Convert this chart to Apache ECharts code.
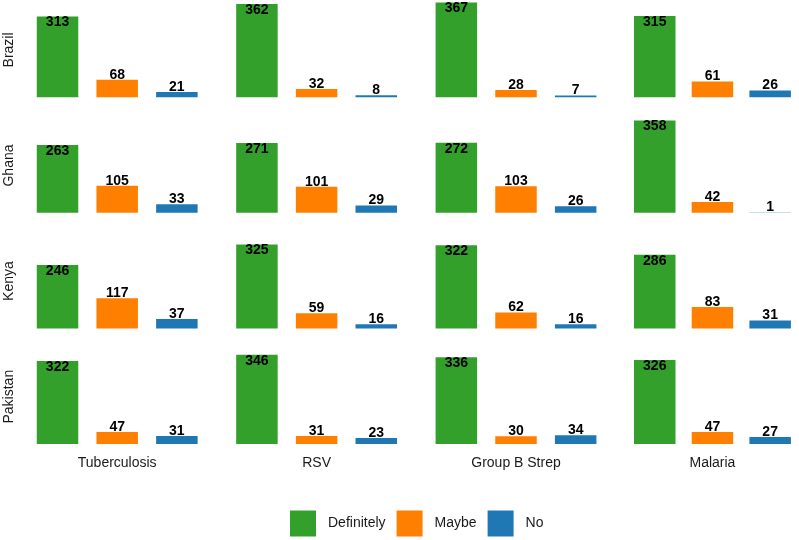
<!DOCTYPE html>
<html>
<head>
<meta charset="utf-8">
<script src="https://cdn.jsdelivr.net/npm/echarts@6/dist/echarts.min.js"></script>
<style>
  html, body { margin: 0; padding: 0; background: #fff; }
  #chart { width: 799px; height: 540px; }
</style>
</head>
<body>
<div id="chart"></div>
<script>
// rows = countries, columns = diseases
var countries = ["Brazil", "Ghana", "Kenya", "Pakistan"];
var diseases = ["Tuberculosis", "RSV", "Group B Strep", "Malaria"];
var responses = ["Definitely", "Maybe", "No"];
var colors = ["#33a02c", "#ff7f00", "#1f78b4"];

// values per country, in disease order
var definitely = [
    [313, 362, 367, 315],
    [263, 271, 272, 358],
    [246, 325, 322, 286],
    [322, 346, 336, 326]
];
var maybe = [
    [68, 32, 28, 61],
    [105, 101, 103, 42],
    [117, 59, 62, 83],
    [47, 31, 30, 47]
];
var no = [
    [21, 8, 7, 26],
    [33, 29, 26, 1],
    [37, 16, 16, 31],
    [31, 23, 34, 27]
];

document.addEventListener("DOMContentLoaded", function () {
    var chartDom = document.getElementById("chart");
    var myChart = echarts.init(chartDom);

    var yMax = 367;
    var pxPerUnit = 0.258;
    var panelH = yMax * pxPerUnit;
    var panelW = 179;
    var textColor = "#1a1a1a";

    var grids = [], xAxes = [], yAxes = [], series = [];
    var byResp = [definitely, maybe, no];

    countries.forEach(function (country, r) {
        diseases.forEach(function (disease, c) {
            var idx = grids.length;
            var bottom = 97.3 + r * 115.57;
            grids.push({
                left: 27.7 + c * 199.4,
                top: bottom - panelH,
                width: panelW,
                height: panelH
            });
            xAxes.push({
                type: "category",
                gridIndex: idx,
                data: responses,
                axisLine: { show: false },
                axisTick: { show: false },
                axisLabel: { show: false },
                name: r === countries.length - 1 ? disease : "",
                nameLocation: "middle",
                nameGap: 12,
                nameTextStyle: { color: textColor, fontSize: 14, fontFamily: "Liberation Sans" }
            });
            yAxes.push({
                type: "value",
                gridIndex: idx,
                min: 0,
                max: yMax,
                splitLine: { show: false },
                axisLine: { show: false },
                axisTick: { show: false },
                axisLabel: { show: false },
                name: c === 0 ? country : "",
                nameLocation: "middle",
                nameGap: 12,
                nameRotate: 90,
                nameTextStyle: { color: textColor, fontSize: 14, fontFamily: "Liberation Sans" }
            });
            responses.forEach(function (resp, k) {
                var d = ["-", "-", "-"];
                d[k] = byResp[k][r][c];
                series.push({
                    name: resp,
                    type: "bar",
                    xAxisIndex: idx,
                    yAxisIndex: idx,
                    stack: "p" + idx,
                    barWidth: 41.5,
                    data: d,
                    itemStyle: { color: colors[k] },
                    label: {
                        show: true,
                        position: k === 0 ? "insideTop" : "top",
                        distance: k === 0 ? -1 : -2,
                        color: "#000",
                        fontSize: 14,
                        fontWeight: "bold",
                        fontFamily: "Liberation Sans",
                        formatter: function (p) { return p.value; }
                    }
                });
            });
        });
    });

    var option = {
        animation: false,
        legend: {
            data: responses,
            left: 285,
            top: 505.5,
            icon: "rect",
            itemWidth: 26,
            itemHeight: 26,
            itemGap: 11,
            textStyle: {
                color: textColor,
                fontSize: 14,
                fontFamily: "Liberation Sans",
                padding: [0, 0, 0, 7]
            }
        },
        grid: grids,
        xAxis: xAxes,
        yAxis: yAxes,
        series: series
    };

    myChart.setOption(option);
});
</script>
</body>
</html>
